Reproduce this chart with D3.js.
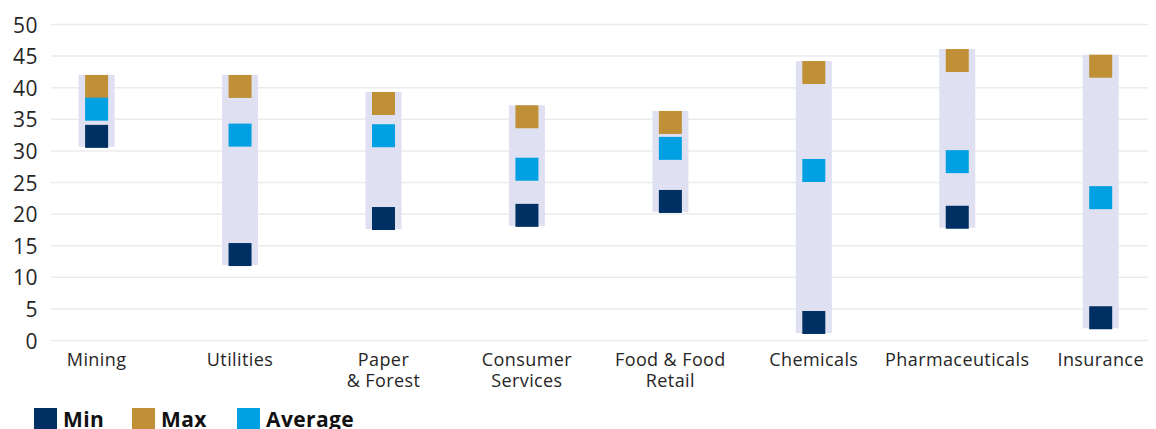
<!DOCTYPE html>
<html><head><meta charset="utf-8">
<script src="https://cdn.jsdelivr.net/npm/d3@7"></script>
<style>body{margin:0;background:#fff;} svg{display:block;}</style>
</head><body>
<svg id="c" width="1156" height="429"></svg>
<script>
const categories = ["Mining","Utilities","Paper\n& Forest","Consumer\nServices","Food & Food\nRetail","Chemicals","Pharmaceuticals","Insurance"];
const minValues = [32.3, 13.6, 19.3, 19.8, 22.0, 2.85, 19.5, 3.6];
const maxValues = [40.2, 40.2, 37.5, 35.4, 34.5, 42.4, 44.3, 43.4];
const avgValues = [36.6, 32.5, 32.4, 27.1, 30.4, 26.9, 28.3, 22.6];
const yTicks = [0,5,10,15,20,25,30,35,40,45,50];
const seriesNames = ["Min","Max","Average"];
const colors = {Min:"#003063", Max:"#c09036", Average:"#00a0e2", band:"#dfe1f3", grid:"#ebebeb", text:"#262626"};

const svg = d3.select("#c");
const font = "'Open Sans', sans-serif";
const y = d3.scaleLinear().domain([0,50]).range([340.5,24.5]);
const x = d3.scalePoint().domain(categories).range([96.6,1100.7]);
const gridX0 = 51, gridX1 = 1148;
const sq = 23, bandW = 36;

// grid
svg.append("g").selectAll("line").data(yTicks).join("line")
  .attr("x1",gridX0).attr("x2",gridX1)
  .attr("y1",d=>y(d)).attr("y2",d=>y(d))
  .attr("stroke",colors.grid).attr("stroke-width",1.5);

// y axis labels
const yAxis = d3.axisLeft(y).tickValues(yTicks).tickSize(0).tickPadding(0);
const gy = svg.append("g").attr("transform","translate(38,0)").call(yAxis);
gy.select(".domain").remove();
gy.selectAll("text").attr("font-family",font).attr("font-size",21).attr("letter-spacing","0.5px")
  .attr("fill",colors.text).attr("dy","0.36em");

const data = categories.map((c,i)=>({c, min:minValues[i], max:maxValues[i], avg:avgValues[i]}));

// range bands
svg.append("g").selectAll("rect").data(data).join("rect")
  .attr("x",d=>x(d.c)-bandW/2).attr("width",bandW)
  .attr("y",d=>y(d.max)-sq/2).attr("height",d=>y(d.min)-y(d.max)+sq-1)
  .attr("fill",colors.band);

function squares(key, name){
  svg.append("g").selectAll("rect").data(data).join("rect")
    .attr("x",d=>x(d.c)-sq/2).attr("width",sq)
    .attr("y",d=>y(d[key])-sq/2).attr("height",sq)
    .attr("fill",colors[name]);
}
squares("max","Max");
squares("avg","Average");
squares("min","Min");

// category labels
const gx = svg.append("g");
data.forEach(d=>{
  const t = gx.append("text").attr("x",x(d.c)).attr("y",366)
    .attr("text-anchor","middle").attr("font-family",font).attr("font-size",18)
    .attr("letter-spacing","0.4px").attr("fill",colors.text);
  d.c.split("\n").forEach((line,j)=>{
    t.append("tspan").attr("x",x(d.c)).attr("dy",j?20.5:0).text(line);
  });
});

// legend
const legX = [34,132,237];
const lg = svg.append("g");
seriesNames.forEach((n,i)=>{
  lg.append("rect").attr("x",legX[i]).attr("y",408).attr("width",sq).attr("height",sq).attr("fill",colors[n]);
  lg.append("text").attr("x",legX[i]+29).attr("y",427).attr("font-family",font).attr("font-weight","bold")
    .attr("font-size",21).attr("letter-spacing","0.4px").attr("fill","#111").text(n);
});
</script>
</body></html>
